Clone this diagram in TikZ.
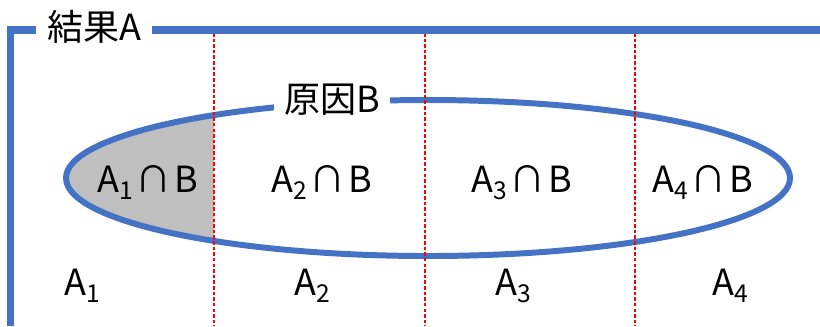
\documentclass[tikz,border=0pt]{standalone}
\usepackage{fontspec}
\setmainfont{Noto Sans CJK JP}
\definecolor{SetBlue}{HTML}{4472C4}
\definecolor{CutRed}{HTML}{FF0000}
\definecolor{PartGray}{HTML}{BFBFBF}
\usetikzlibrary{positioning}
\tikzset{
  setline/.style={draw=SetBlue,line width=4pt},
  ovalline/.style={draw=SetBlue,line width=3.4pt},
  cutline/.style={draw=CutRed,line width=0.6pt,dash pattern=on 2pt off 1.2pt},
  setname/.style={fill=white,inner xsep=6pt,inner ysep=2pt,
    font=\fontsize{20.5}{24}\selectfont,anchor=base},
  partname/.style={font=\fontsize{20.5}{24}\selectfont,anchor=base,inner sep=0pt},
}
\newcommand{\partsub}[1]{\raisebox{-4pt}{\fontsize{14}{16}\selectfont#1}}
\newcommand{\partA}[1]{A\partsub{#1}}
\newcommand{\partAB}[1]{A\partsub{#1}\kern1.5pt∩\kern1.5pt B}

\begin{document}
\begin{tikzpicture}[x=0.02cm,y=-0.02cm]
  \useasboundingbox (0,0) rectangle (820,326);
  % part A1 and B
  \begin{scope}
    \clip (0,0) rectangle (214,326);
    \fill[PartGray] (428,178) ellipse [x radius=362,y radius=78];
  \end{scope}
  \draw[ovalline] (428,178) ellipse [x radius=362,y radius=78];
  \foreach \cx in {214,425,635}
    \draw[cutline] (\cx,33) -- (\cx,326);
  \draw[setline] (10.5,326) -- (10.5,30) -- (820,30);
  % set labels
  \node[setname](setA)at(94,40){結果A};
  \node[setname](setB)at(332,112){原因B};
  % parts
  \node[partname](ab1)at(148,192){\partAB{1}};
  \node[partname](ab2)at(322,192){\partAB{2}};
  \node[partname](ab3)at(522,192){\partAB{3}};
  \node[partname](ab4)at(703,192){\partAB{4}};
  \node[partname](a1)at(82,295){\partA{1}};
  \node[partname](a2)at(312,295){\partA{2}};
  \node[partname](a3)at(513,295){\partA{3}};
  \node[partname](a4)at(730,295){\partA{4}};
\end{tikzpicture}
\end{document}
